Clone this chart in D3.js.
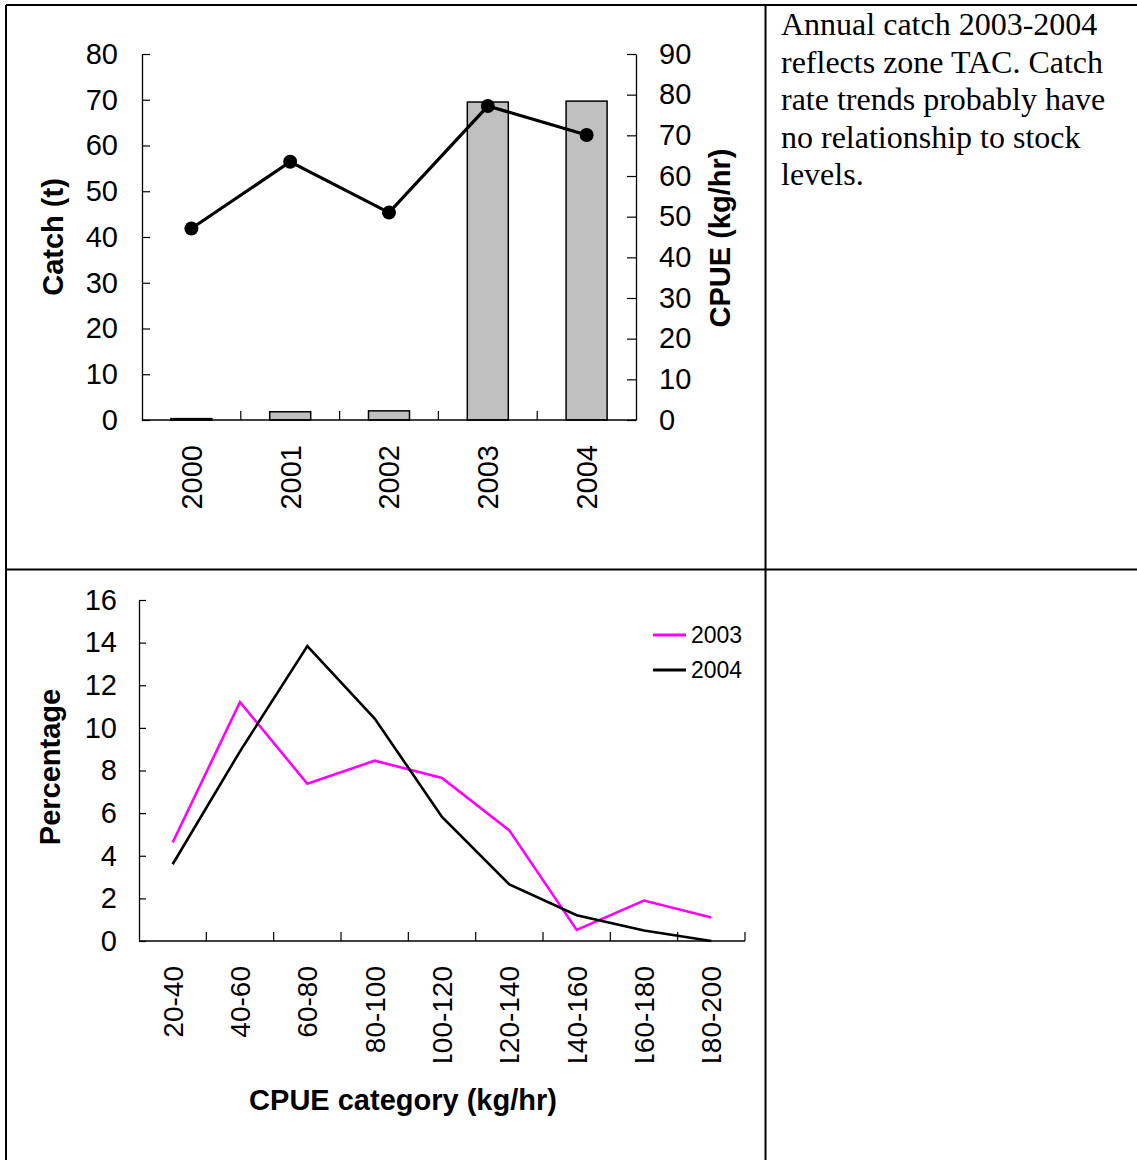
<!DOCTYPE html>
<html>
<head>
<meta charset="utf-8">
<script src="https://cdn.jsdelivr.net/npm/d3@7"></script>
<style>
  html, body { margin: 0; padding: 0; background: #fff; }
  svg { display: block; }
  text { font-family: "Liberation Sans", Arial, sans-serif; fill: #000; }
  .note { font-family: "Liberation Serif", "Times New Roman", serif; font-size: 32px; }
</style>
</head>
<body>
<svg id="page" width="1137" height="1160"></svg>
<script>
const width = 1137, height = 1160;
const svg = d3.select("#page");

// top panel: catch (bars, left axis) and CPUE (line, right axis)
const years = ["2000", "2001", "2002", "2003", "2004"];
const catchT = [0.3, 1.8, 2.0, 69.5, 69.7];
const cpue = [47.1, 63.5, 51.0, 77.2, 70.1];

// bottom panel: CPUE category distribution
const cpueCats = ["20-40", "40-60", "60-80", "80-100", "100-120", "120-140", "140-160", "160-180", "180-200"];
const pct2003 = [4.62, 11.21, 7.38, 8.46, 7.65, 5.19, 0.52, 1.90, 1.10];
const pct2004 = [3.6, 8.9, 13.84, 10.44, 5.82, 2.66, 1.21, 0.49, 0.0];
const seriesNames = ["2003", "2004"];
const seriesColors = ["#ff00ff", "#000000"];

const noteLines = ["Annual catch 2003-2004", "reflects zone TAC. Catch", "rate trends probably have", "no relationship to stock", "levels."];

// ---- table grid
const grid = svg.append("g").attr("stroke", "#000").attr("stroke-width", 2);
grid.append("line").attr("x1", 6).attr("x2", width).attr("y1", 5).attr("y2", 5);
grid.append("line").attr("x1", 6).attr("x2", 6).attr("y1", 5).attr("y2", height);
grid.append("line").attr("x1", 765.5).attr("x2", 765.5).attr("y1", 5).attr("y2", height);
grid.append("line").attr("x1", 6).attr("x2", width).attr("y1", 569.5).attr("y2", 569.5);

// ---- note text
const note = svg.append("text").attr("class", "note").attr("x", 781).attr("y", 35);
noteLines.forEach((t, i) => {
  note.append("tspan").attr("x", 781).attr("dy", i === 0 ? 0 : 37.5).text(t);
});

// ---- top chart
const x1 = d3.scaleBand().domain(years).range([142, 636]);
const yC = d3.scaleLinear().domain([0, 80]).range([420, 54]);
const yE = d3.scaleLinear().domain([0, 90]).range([420, 54]);
const topG = svg.append("g");

const barW = x1.bandwidth() * 0.415;
topG.selectAll("rect.bar").data(years).join("rect")
  .attr("class", "bar")
  .attr("x", d => x1(d) + (x1.bandwidth() - barW) / 2)
  .attr("width", barW)
  .attr("y", (d, i) => yC(catchT[i]))
  .attr("height", (d, i) => yC(0) - yC(catchT[i]))
  .attr("fill", "#c0c0c0")
  .attr("stroke", "#000")
  .attr("stroke-width", 1.5);

const axL = topG.append("g").attr("transform", "translate(142,0)")
  .call(d3.axisLeft(yC).ticks(8).tickSize(-8).tickSizeOuter(0).tickPadding(24));
const axR = topG.append("g").attr("transform", "translate(636,0)")
  .call(d3.axisRight(yE).ticks(9).tickSize(-9).tickSizeOuter(0).tickPadding(23));
[axL, axR].forEach(a => {
  a.select(".domain").attr("stroke-width", 1.3);
  a.selectAll(".tick line").attr("stroke-width", 1.2);
  a.selectAll("text").style("font-size", "29px").style("font-family", "'Liberation Sans', Arial, sans-serif");
});

// x baseline and boundary ticks
topG.append("line").attr("x1", 142).attr("x2", 636).attr("y1", yC(0)).attr("y2", yC(0))
  .attr("stroke", "#000").attr("stroke-width", 1.3);
topG.selectAll("line.xt").data(years.slice(1)).join("line")
  .attr("class", "xt")
  .attr("x1", d => x1(d)).attr("x2", d => x1(d))
  .attr("y1", yC(0)).attr("y2", yC(0) - 9)
  .attr("stroke", "#000").attr("stroke-width", 1.2);

topG.selectAll("text.yr").data(years).join("text")
  .attr("class", "yr")
  .attr("transform", d => `translate(${x1(d) + x1.bandwidth() / 2},445) rotate(-90)`)
  .attr("text-anchor", "end")
  .attr("dy", "0.36em")
  .style("font-size", "29px")
  .text(d => d);

const cpueLine = d3.line()
  .x((d, i) => x1(years[i]) + x1.bandwidth() / 2)
  .y(d => yE(d));
topG.append("path").datum(cpue)
  .attr("d", cpueLine)
  .attr("fill", "none").attr("stroke", "#000").attr("stroke-width", 3.2);
topG.selectAll("circle").data(cpue).join("circle")
  .attr("cx", (d, i) => x1(years[i]) + x1.bandwidth() / 2)
  .attr("cy", d => yE(d))
  .attr("r", 7)
  .attr("fill", "#000");

topG.append("text")
  .attr("transform", "translate(63,237) rotate(-90)")
  .attr("text-anchor", "middle")
  .style("font-size", "29px").style("font-weight", "bold")
  .text("Catch (t)");
topG.append("text")
  .attr("transform", "translate(730,238) rotate(-90)")
  .attr("text-anchor", "middle")
  .style("font-size", "29px").style("font-weight", "bold")
  .text("CPUE (kg/hr)");

// ---- bottom chart
const x2 = d3.scaleBand().domain(cpueCats).range([139, 745]);
const yP = d3.scaleLinear().domain([0, 16]).range([941, 600]);
const bot = svg.append("g");

const axP = bot.append("g").attr("transform", "translate(139,0)")
  .call(d3.axisLeft(yP).ticks(8).tickSize(-7).tickSizeOuter(0).tickPadding(22));
axP.select(".domain").attr("stroke-width", 1.3);
axP.selectAll(".tick line").attr("stroke-width", 1.2);
axP.selectAll("text").style("font-size", "29px").style("font-family", "'Liberation Sans', Arial, sans-serif");

bot.append("line").attr("x1", 139).attr("x2", 745).attr("y1", yP(0)).attr("y2", yP(0))
  .attr("stroke", "#000").attr("stroke-width", 1.3);
const bounds = cpueCats.slice(1).map(c => x2(c)).concat([x2.range()[1]]);
bot.selectAll("line.xt").data(bounds).join("line")
  .attr("class", "xt")
  .attr("x1", d => d).attr("x2", d => d)
  .attr("y1", yP(0)).attr("y2", yP(0) - 9)
  .attr("stroke", "#000").attr("stroke-width", 1.2);

// category labels are cut off at the bottom, as in the source
svg.append("clipPath").attr("id", "labclip")
  .append("rect").attr("x", 100).attr("y", 940).attr("width", 680).attr("height", 122);
bot.append("g").attr("clip-path", "url(#labclip)")
  .selectAll("text").data(cpueCats).join("text")
  .attr("transform", d => `translate(${x2(d) + x2.bandwidth() / 2},966) rotate(-90)`)
  .attr("text-anchor", "end")
  .attr("dy", "0.36em")
  .style("font-size", "28px")
  .text(d => d);

const pctLine = d3.line()
  .x((d, i) => x2(cpueCats[i]) + x2.bandwidth() / 2)
  .y(d => yP(d));
[pct2003, pct2004].forEach((s, k) => {
  bot.append("path").datum(s)
    .attr("d", pctLine)
    .attr("fill", "none")
    .attr("stroke", seriesColors[k])
    .attr("stroke-width", 2.6)
    .attr("stroke-linejoin", "miter");
});

// legend
const leg = bot.selectAll("g.leg").data(seriesNames).join("g")
  .attr("class", "leg")
  .attr("transform", (d, i) => `translate(653,${635 + i * 35})`);
leg.append("line").attr("x1", 0).attr("x2", 33)
  .attr("stroke", (d, i) => seriesColors[i]).attr("stroke-width", 3);
leg.append("text").attr("x", 38).attr("dy", "0.36em")
  .style("font-size", "23px").text(d => d);

bot.append("text")
  .attr("transform", "translate(60,767) rotate(-90)")
  .attr("text-anchor", "middle")
  .style("font-size", "29px").style("font-weight", "bold")
  .text("Percentage");
bot.append("text")
  .attr("x", 403).attr("y", 1110)
  .attr("text-anchor", "middle")
  .style("font-size", "29px").style("font-weight", "bold")
  .text("CPUE category (kg/hr)");
</script>
</body>
</html>
